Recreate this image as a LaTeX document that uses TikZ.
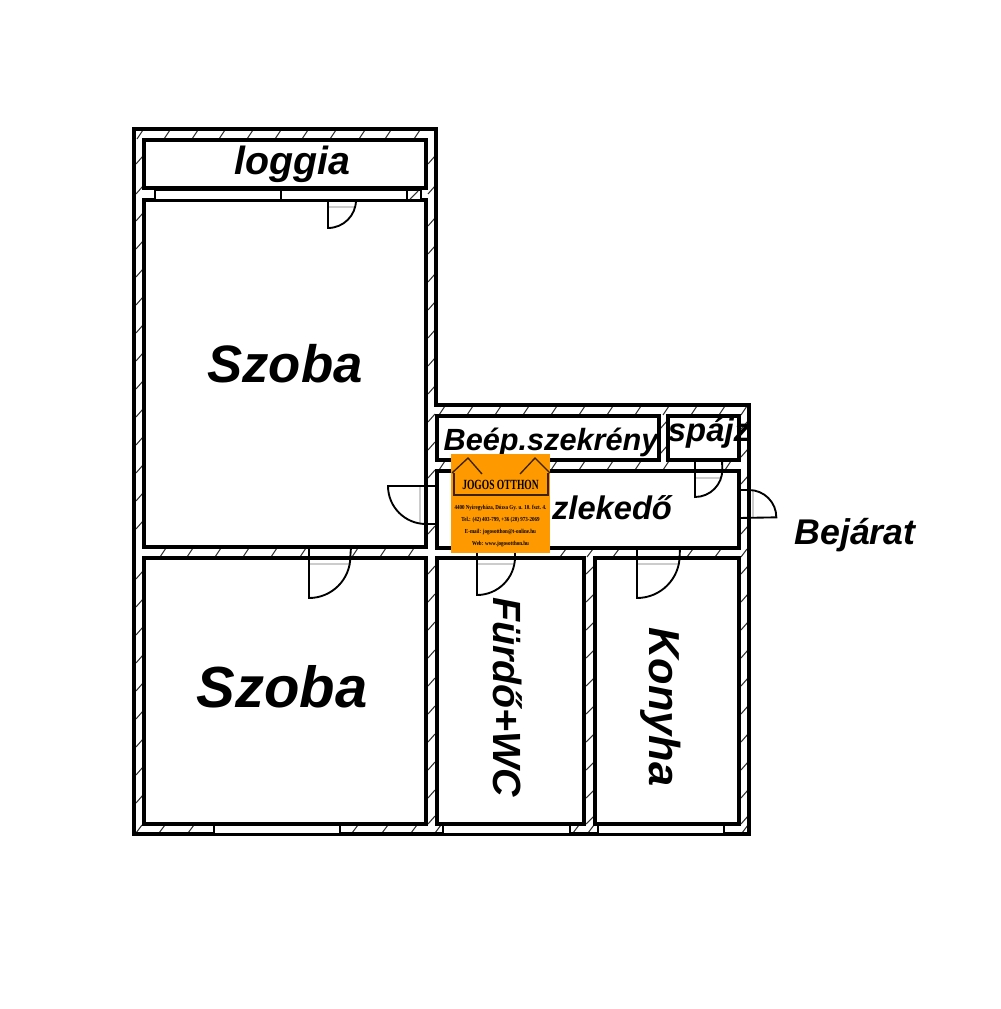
\documentclass[tikz,border=0pt]{standalone}
\usepackage{fontspec}
\setmainfont{Liberation Sans}
\newfontfamily\logofont{Liberation Serif}
\definecolor{logoorange}{HTML}{FF9900}
\definecolor{logoline}{HTML}{3A2200}
\tikzset{
    outerwall/.style={line width=2.8pt, black, line join=miter},
    roomwall/.style={line width=2.5pt, black, line join=miter},
    hatchmark/.style={line width=0.8pt, black!80},
    windowpane/.style={fill=white, draw=black, line width=1.3pt},
    doorleaf/.style={line width=1.4pt, black},
    doorshade/.style={line width=1pt, black!20},
    label/.style={inner sep=0pt, black},
    logotext/.style={font=\logofont\bfseries\fontsize{4.6}{5}\selectfont, inner sep=0pt, black}
}
\begin{document}
\begin{tikzpicture}[x=0.75pt, y=-0.75pt]
    \useasboundingbox (0,0) rectangle (1000,1009);

    % hatching of the walls
    \foreach \x in {140,167,195,222,250,278,305,333,362,388,417}
        \draw[hatchmark] (\x-3,139) -- (\x+3,130);
    \foreach \x in {163,190,218,246,274,303,355,383,411}
        \draw[hatchmark] (\x-3,557) -- (\x+3,548);
    \foreach \x in {139,162,191,355,385,414,438,576,591,745}
        \draw[hatchmark] (\x-3,833) -- (\x+3,825);
    \foreach \x in {442,470,498,526,554,582,610,638,666,694,722,744}
        \draw[hatchmark] (\x-3,415) -- (\x+3,406);
    \foreach \x in {442,554,582,610,638,666,728}
        \draw[hatchmark] (\x-3,470) -- (\x+3,461);
    \foreach \x in {563,590,616,690,718,744}
        \draw[hatchmark] (\x-3,557) -- (\x+3,549);
    \foreach \y in {160,190,217,245,273,301,329,357,385,413,441,469,497,525,575,603,631,659,687,715,743,771,799}
        \draw[hatchmark] (136,\y+4) -- (143,\y-4);
    \foreach \y in {160,190,222,250,278,306,334,362,390,418,446,474,530,570,598,626,654,682,710,738,766,794,820}
        \draw[hatchmark] (428,\y+4) -- (435,\y-4);
    \foreach \y in {570,598,626,654,682,710,738,766,794,820}
        \draw[hatchmark] (586,\y+4) -- (594,\y-4);
    \foreach \y in {425,450}
        \draw[hatchmark] (660,\y+4) -- (667,\y-4);
    \foreach \y in {425,453,480,530,570,598,626,654,682,710,738,766,794,820}
        \draw[hatchmark] (741,\y+4) -- (748,\y-4);

    % walls
    \draw[outerwall] (134,129) -- (436,129) -- (436,405) -- (749,405) -- (749,834) -- (134,834) -- cycle;
    \draw[roomwall] (144,140) rectangle (426,188);
    \draw[roomwall] (144,200) rectangle (426,547);
    \draw[roomwall] (144,558) rectangle (426,824);
    \draw[roomwall] (437,416) rectangle (659,460);
    \draw[roomwall] (668,416) rectangle (739,460);
    \draw[roomwall] (437,471) rectangle (739,548);
    \draw[roomwall] (437,558) rectangle (584,824);
    \draw[roomwall] (595,558) rectangle (739,824);

    % windows
    \draw[windowpane] (155,190) rectangle (407,200);
    \draw[windowpane] (281,190) -- (281,200);
    \draw[windowpane] (407,190) rectangle (421,200);
    \draw[hatchmark] (410,199) -- (418,191);
    \draw[windowpane] (214,825) rectangle (340,834);
    \draw[windowpane] (443,825) rectangle (570,834);
    \draw[windowpane] (598,825) rectangle (724,834);

    % doors
    \draw[doorshade] (329,207) -- (356,207);
    \draw[doorshade] (420,487) -- (420,524);
    \draw[doorshade] (753,491) -- (753,518);
    \draw[doorshade] (696,478) -- (722,478);
    \draw[doorshade] (310,564) -- (351,564);
    \draw[doorshade] (478,564) -- (515,564);
    \draw[doorshade] (638,564) -- (680,564);
    \draw[doorleaf] (328,200) -- (328,228) arc[start angle=270, end angle=360, radius=21pt];
    \draw[doorleaf] (437,486) -- (388,486) arc[start angle=180, end angle=270, radius=28.5pt] -- (437,524);
    \draw[doorleaf] (739,490) -- (749,490) arc[start angle=90, end angle=0, radius=20.5pt] -- (739,518);
    \draw[doorleaf] (695,460) -- (695,497) arc[start angle=270, end angle=360, radius=20.5pt] -- (722,460);
    \draw[doorleaf] (309,547) -- (309,598) arc[start angle=270, end angle=360, radius=31pt] -- (351,547);
    \draw[doorleaf] (477,548) -- (477,595) arc[start angle=270, end angle=360, radius=28.5pt] -- (515,548);
    \draw[doorleaf] (637,548) -- (637,598) arc[start angle=270, end angle=360, radius=32pt] -- (680,548);

    % labels
    \node[label, font=\bfseries\itshape\fontsize{29.5}{30}\selectfont] (loggia) at (292,164) {loggia};
    \node[label, font=\bfseries\itshape\fontsize{39.5}{40}\selectfont] (szobaup) at (285,364) {Szoba};
    \node[label, font=\bfseries\itshape\fontsize{43.5}{44}\selectfont] (szobalow) at (282,687) {Szoba};
    \node[label, font=\bfseries\itshape\fontsize{23}{24}\selectfont] (szekreny) at (551,442) {Beép.szekrény};
    \node[label, font=\bfseries\itshape\fontsize{24.6}{25}\selectfont] (spajz) at (709,433) {spájz};
    \node[label, font=\bfseries\itshape\fontsize{24.5}{25}\selectfont] (kozlekedo) at (612,508) {zlekedő};
    \node[label, font=\bfseries\itshape\fontsize{26.8}{27}\selectfont] (bejarat) at (855,535) {Bejárat};
    \node[label, font=\bfseries\itshape\fontsize{29.5}{30}\selectfont, rotate=-90] (furdo) at (508,697) {Fürdő+WC};
    \node[label, font=\bfseries\itshape\fontsize{32.5}{33}\selectfont, rotate=-90] (konyha) at (661,707) {Konyha};

    % logo
    \fill[logoorange] (451,454) rectangle (550,553);
    \draw[logoline, line width=1pt] (452,473) -- (468,458) -- (482,474);
    \draw[logoline, line width=1pt] (520,474) -- (535,458) -- (550,473);
    \draw[logoline, line width=1.1pt] (454,473) -- (454,495) -- (548,495) -- (548,473);
    \node[inner sep=0pt, font=\logofont\bfseries\fontsize{10.5}{11}\selectfont, xscale=0.68] (logoname) at (500.5,485) {JOGOS OTTHON};
    \node[logotext, xscale=0.82] (logoaddr) at (500.5,508) {4400 Nyíregyháza, Dózsa Gy. u. 10. fszt. 4.};
    \node[logotext, xscale=0.82] (logotel) at (500.5,520) {Tel.: (42) 403-799, +36 (20) 973-2069};
    \node[logotext, xscale=0.82] (logomail) at (500.5,532) {E-mail: jogosotthon@t-online.hu};
    \node[logotext, xscale=0.82] (logoweb) at (500.5,544) {Web: www.jogosotthon.hu};
\end{tikzpicture}
\end{document}
